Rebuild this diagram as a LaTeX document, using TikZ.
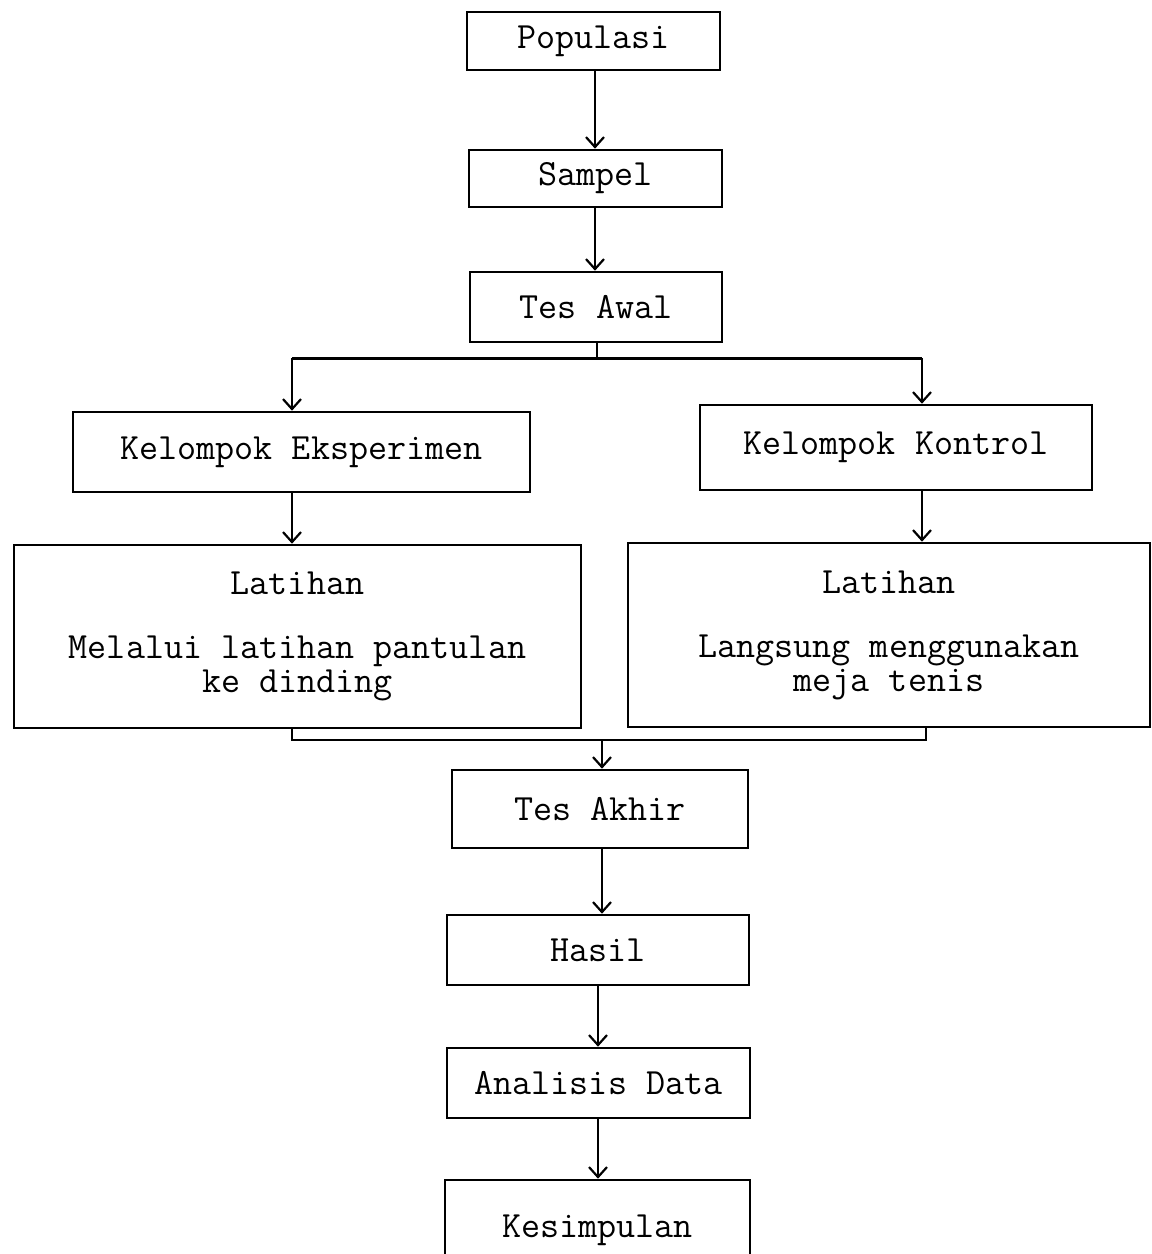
\documentclass[tikz,border=0pt]{standalone}
\usetikzlibrary{arrows.meta}
\begin{document}
\begin{tikzpicture}[x=0.5pt,y=-0.5pt,
  box/.style={draw,line width=1.3pt,inner sep=0pt,align=center,
    font=\ttfamily\fontsize{18.5}{17}\selectfont},
  conn/.style={line width=0.8pt},
  arr/.style={conn,-{Straight Barb[length=5pt,width=9pt,line width=1.1pt]}}]
\useasboundingbox (0,0) rectangle (1152,1254);
\node[box,minimum width=126.5pt,minimum height=29pt] (pop) at (593.5,41) {Populasi};
\node[box,minimum width=126.5pt,minimum height=28.5pt] (sam) at (595.5,178.5) {Sampel};
\node[box,minimum width=126pt,minimum height=35pt] (awal) at (596,307) {Tes Awal};
\node[box,minimum width=228.5pt,minimum height=40pt] (eks) at (301.5,452) {Kelompok Eksperimen};
\node[box,minimum width=196pt,minimum height=42.5pt] (kon) at (896,447.5) {Kelompok Kontrol};
\node[box,minimum width=283.5pt,minimum height=91.5pt] (latL) at (297.5,636.5)
  {Latihan\\[15pt]Melalui latihan pantulan\\ke dinding};
\node[box,minimum width=261pt,minimum height=92pt] (latR) at (889,635)
  {Latihan\\[15pt]Langsung menggunakan\\meja tenis};
\node[box,minimum width=148pt,minimum height=39pt] (akhir) at (600,809) {Tes Akhir};
\node[box,minimum width=151pt,minimum height=35pt] (hasil) at (598,950) {Hasil};
\node[box,minimum width=151.5pt,minimum height=35pt] (anal) at (598.5,1083) {Analisis Data};
\node[box,minimum width=152.5pt,minimum height=50pt] (kes) at (597.5,1230) {Kesimpulan};
% coordinates for the branches
\coordinate (split) at (597,358);
\coordinate (sl) at (292,358);
\coordinate (sr) at (922,358);
\coordinate (jl) at (292,740);
\coordinate (jr) at (926,740);
\coordinate (jm) at (602,740);
\coordinate (c1) at (595,0);
\coordinate (c2) at (598,0);
\draw[arr] (c1 |- pop.south) -- (c1 |- sam.north);
\draw[arr] (c1 |- sam.south) -- (c1 |- awal.north);
\draw[conn] (split |- awal.south) -- (split);
\draw[line width=1.5pt] (sl) -- (sr);
\draw[arr] (sl) -- (sl |- eks.north);
\draw[arr] (sr) -- (sr |- kon.north);
\draw[arr] (eks.south -| sl) -- (sl |- latL.north);
\draw[arr] (kon.south -| sr) -- (sr |- latR.north);
\draw[conn] (jl |- latL.south) -- (jl) -- (jr) -- (jr |- latR.south);
\draw[arr] (jm) -- (jm |- akhir.north);
\draw[arr] (akhir.south -| jm) -- (jm |- hasil.north);
\draw[arr] (c2 |- hasil.south) -- (c2 |- anal.north);
\draw[arr] (c2 |- anal.south) -- (c2 |- kes.north);
\end{tikzpicture}
\end{document}
